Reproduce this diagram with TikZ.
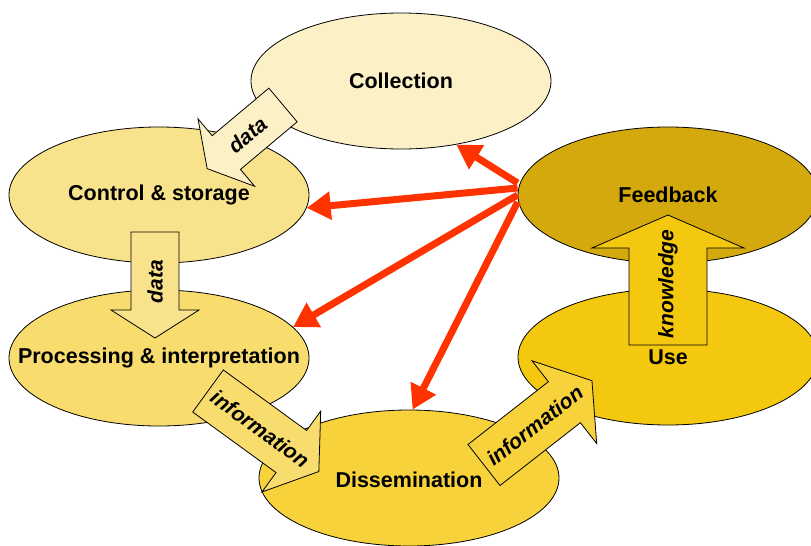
\documentclass[tikz,border=0pt]{standalone}
\usepackage{fontspec}
\setmainfont{Liberation Sans}
\usetikzlibrary{shapes.geometric,arrows.meta}
\definecolor{ccoll}{HTML}{FCF1C6}
\definecolor{cctrl}{HTML}{F9E28C}
\definecolor{cproc}{HTML}{F8DC6E}
\definecolor{cdiss}{HTML}{F7D23B}
\definecolor{cuse}{HTML}{F4C80E}
\definecolor{cfb}{HTML}{D3A90D}
\definecolor{redc}{HTML}{FF3300}
\tikzset{
  stage/.style={ellipse, draw=black, line width=0.8pt, minimum width=300pt,
    minimum height=136pt, inner sep=0pt},
  stagetext/.style={font=\fontsize{21.5}{25}\selectfont\bfseries, inner sep=0pt},
  fbline/.style={draw=redc, line width=7pt, -{Triangle[length=24pt,width=27pt]}},
  blk/.style={draw=black, line width=0.8pt, line join=miter},
  blklabel/.style={font=\fontsize{21}{25}\selectfont\bfseries\itshape, inner sep=0pt},
}
% #1 name, #2 tail point, #3 angle, #4 length, #5 shaft width, #6 head width,
% #7 head length, #8 fill, #9 text
\newcommand\blockarrow[9]{%
  \begin{scope}[shift={#2}, rotate=#3]
    \draw[blk, fill=#8] (0pt,{-#5pt/2}) -- ({#4pt-#7pt},{-#5pt/2})
      -- ({#4pt-#7pt},{-#6pt/2}) -- (#4pt,0pt) -- ({#4pt-#7pt},{#6pt/2})
      -- ({#4pt-#7pt},{#5pt/2}) -- (0pt,{#5pt/2}) -- cycle;
    \pgfmathsetmacro{\txtrot}{90-mod(810-#3,180)}
    \node[blklabel, rotate=\txtrot] (#1) at ({0.47*#4pt},0pt) {#9};
  \end{scope}}
\begin{document}
\begin{tikzpicture}[x=1pt,y=-1pt]
  \useasboundingbox (0,0) rectangle (811,546);
  % stages
  \node[stage, fill=ccoll] (coll) at (401,81) {};
  \node[stage, fill=cctrl] (ctrl) at (159,195) {};
  \node[stage, fill=cproc] (proc) at (159,358) {};
  \node[stage, fill=cdiss] (diss) at (409,478) {};
  \node[stage, fill=cuse]  (use)  at (668,357) {};
  \node[stage, fill=cfb]   (fb)   at (668,195) {};
  \node[stagetext] (collt) at (coll) {Collection};
  \node[stagetext] (ctrlt) at (ctrl) {Control \& storage};
  \node[stagetext] (proct) at (proc) {Processing \& interpretation};
  \node[stagetext] (disst) at ([yshift=-2pt]diss) {Dissemination};
  \node[stagetext] (uset)  at (use)  {Use};
  \node[stagetext] (fbt)   at (fb)   {Feedback};
  % block arrows
  \blockarrow{d1}{(283,105)}{220}{99}{44}{88}{25}{ccoll}{data}
  \blockarrow{d2}{(155,232)}{270}{106}{48}{88}{28}{cctrl}{data}
  \blockarrow{i1}{(208,391)}{-36}{137}{52}{100}{34}{cproc}{information}
  \blockarrow{i2}{(484,465)}{38}{137}{52}{105}{35}{cdiss}{information}
  \blockarrow{k1}{(668,345)}{90}{130}{78}{152}{33}{cuse}{knowledge}
  % feedback arrows
  \draw[fbline] ([yshift=12pt]fb.west) -- (coll.-49);
  \draw[fbline] ([yshift=7pt]fb.west) -- (ctrl.-5);
  \draw[fbline] (fb.west) -- (proc.13);
  \draw[fbline] ([yshift=-7pt]fb.west) -- (diss.87);
\end{tikzpicture}
\end{document}
